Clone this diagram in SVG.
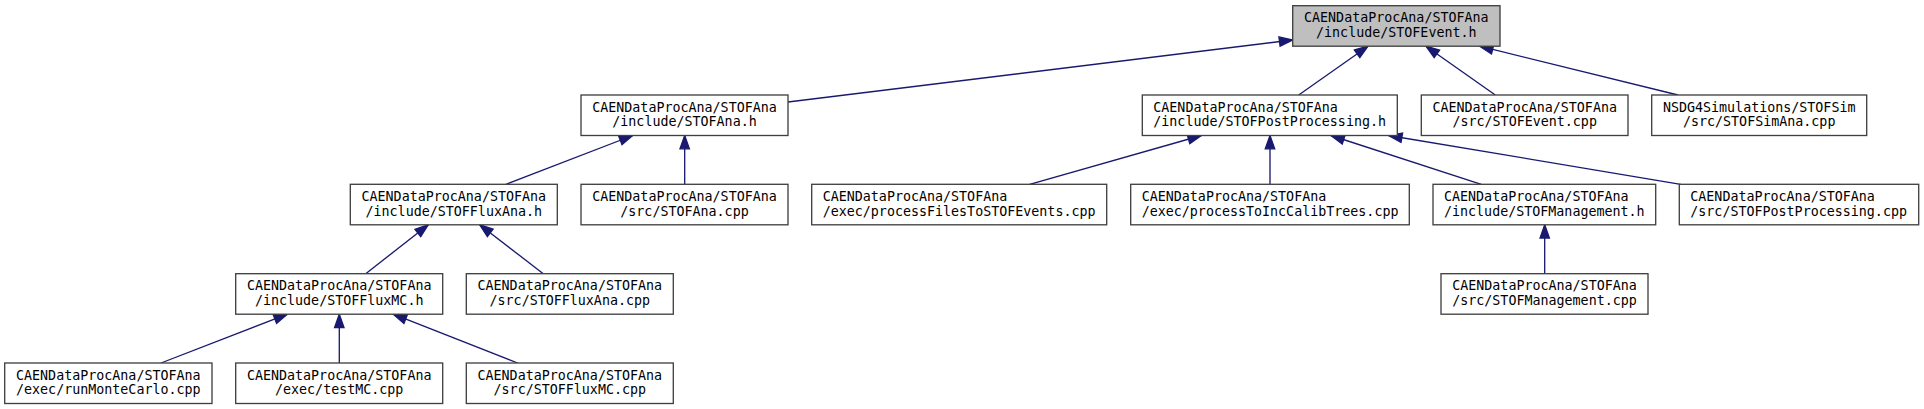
<svg xmlns="http://www.w3.org/2000/svg" width="1924" height="409" viewBox="0 0 1924 409">
<defs>
<style>
.node rect{fill:#ffffff;stroke:#404040;stroke-width:1.33}
.root rect{fill:#bfbfbf}
text{font-family:"DejaVu Sans Mono","Liberation Mono",monospace;font-size:13.33px;fill:#000000}
.c text{text-anchor:middle}
.l text{text-anchor:start}
#edges line{stroke:#191970;stroke-width:1.33;fill:none}
</style>
<marker id="arr" markerUnits="userSpaceOnUse" markerWidth="14" markerHeight="10" refX="13.3" refY="4.7" orient="auto" overflow="visible">
<path d="M0,0 L13.3,4.7 L0,9.4 Z" fill="#191970" stroke="#191970" stroke-width="1.33"/>
</marker>
</defs>
<rect width="1924" height="409" fill="#ffffff"/>
<g id="edges">
<line x1="788" y1="102" x2="1292.7" y2="40" marker-end="url(#arr)"/>
<line x1="1298.7" y1="95" x2="1368" y2="46.2" marker-end="url(#arr)"/>
<line x1="1495.3" y1="95" x2="1426" y2="46.2" marker-end="url(#arr)"/>
<line x1="1678" y1="95" x2="1479.7" y2="46.2" marker-end="url(#arr)"/>
<line x1="506" y1="184.3" x2="632.7" y2="135.5" marker-end="url(#arr)"/>
<line x1="684.7" y1="184.3" x2="684.7" y2="135.5" marker-end="url(#arr)"/>
<line x1="365.7" y1="273.7" x2="428.3" y2="224.8" marker-end="url(#arr)"/>
<line x1="543.3" y1="273.7" x2="479.7" y2="224.8" marker-end="url(#arr)"/>
<line x1="161" y1="363" x2="287.3" y2="314.2" marker-end="url(#arr)"/>
<line x1="339.3" y1="363" x2="339.3" y2="314.2" marker-end="url(#arr)"/>
<line x1="517.7" y1="363" x2="393.3" y2="314.2" marker-end="url(#arr)"/>
<line x1="1029.7" y1="184.3" x2="1201.3" y2="135.5" marker-end="url(#arr)"/>
<line x1="1270" y1="184.3" x2="1270" y2="135.5" marker-end="url(#arr)"/>
<line x1="1481.3" y1="184.3" x2="1331" y2="135.5" marker-end="url(#arr)"/>
<line x1="1680.7" y1="184.3" x2="1388.7" y2="135.5" marker-end="url(#arr)"/>
<line x1="1544.7" y1="273.7" x2="1544.7" y2="224.8" marker-end="url(#arr)"/>
</g>
<g id="node_STOFEvent_h" class="node root c">
<rect x="1292.7" y="5.7" width="207.3" height="40.5"/>
<text x="1396.3" y="22.4">CAENDataProcAna/STOFAna</text>
<text x="1396.3" y="37">/include/STOFEvent.h</text>
</g>
<g id="node_STOFAna_h" class="node c">
<rect x="581" y="95" width="207" height="40.5"/>
<text x="684.5" y="111.7">CAENDataProcAna/STOFAna</text>
<text x="684.5" y="126.3">/include/STOFAna.h</text>
</g>
<g id="node_STOFPostProcessing_h" class="node l">
<rect x="1142.3" y="95" width="255" height="40.5"/>
<text x="1153.3" y="111.7">CAENDataProcAna/STOFAna</text>
<text x="1153.3" y="126.3">/include/STOFPostProcessing.h</text>
</g>
<g id="node_STOFEvent_cpp" class="node c">
<rect x="1421.3" y="95" width="206.7" height="40.5"/>
<text x="1524.7" y="111.7">CAENDataProcAna/STOFAna</text>
<text x="1524.7" y="126.3">/src/STOFEvent.cpp</text>
</g>
<g id="node_STOFSimAna_cpp" class="node c">
<rect x="1651.7" y="95" width="215" height="40.5"/>
<text x="1759.2" y="111.7">NSDG4Simulations/STOFSim</text>
<text x="1759.2" y="126.3">/src/STOFSimAna.cpp</text>
</g>
<g id="node_STOFFluxAna_h" class="node c">
<rect x="350.3" y="184.3" width="207" height="40.5"/>
<text x="453.8" y="201">CAENDataProcAna/STOFAna</text>
<text x="453.8" y="215.6">/include/STOFFluxAna.h</text>
</g>
<g id="node_STOFAna_cpp" class="node c">
<rect x="581" y="184.3" width="207" height="40.5"/>
<text x="684.5" y="201">CAENDataProcAna/STOFAna</text>
<text x="684.5" y="215.6">/src/STOFAna.cpp</text>
</g>
<g id="node_processFilesToSTOFEvents_cpp" class="node l">
<rect x="811.7" y="184.3" width="295" height="40.5"/>
<text x="822.7" y="201">CAENDataProcAna/STOFAna</text>
<text x="822.7" y="215.6">/exec/processFilesToSTOFEvents.cpp</text>
</g>
<g id="node_processToIncCalibTrees_cpp" class="node l">
<rect x="1130.7" y="184.3" width="278.6" height="40.5"/>
<text x="1141.7" y="201">CAENDataProcAna/STOFAna</text>
<text x="1141.7" y="215.6">/exec/processToIncCalibTrees.cpp</text>
</g>
<g id="node_STOFManagement_h" class="node l">
<rect x="1433" y="184.3" width="222.7" height="40.5"/>
<text x="1444" y="201">CAENDataProcAna/STOFAna</text>
<text x="1444" y="215.6">/include/STOFManagement.h</text>
</g>
<g id="node_STOFPostProcessing_cpp" class="node l">
<rect x="1679.3" y="184.3" width="239.4" height="40.5"/>
<text x="1690.3" y="201">CAENDataProcAna/STOFAna</text>
<text x="1690.3" y="215.6">/src/STOFPostProcessing.cpp</text>
</g>
<g id="node_STOFFluxMC_h" class="node c">
<rect x="235.7" y="273.7" width="207" height="40.5"/>
<text x="339.2" y="290.4">CAENDataProcAna/STOFAna</text>
<text x="339.2" y="305">/include/STOFFluxMC.h</text>
</g>
<g id="node_STOFFluxAna_cpp" class="node c">
<rect x="466.3" y="273.7" width="207" height="40.5"/>
<text x="569.8" y="290.4">CAENDataProcAna/STOFAna</text>
<text x="569.8" y="305">/src/STOFFluxAna.cpp</text>
</g>
<g id="node_STOFManagement_cpp" class="node c">
<rect x="1441" y="273.7" width="207" height="40.5"/>
<text x="1544.5" y="290.4">CAENDataProcAna/STOFAna</text>
<text x="1544.5" y="305">/src/STOFManagement.cpp</text>
</g>
<g id="node_runMonteCarlo_cpp" class="node c">
<rect x="4.7" y="363" width="207.3" height="40.5"/>
<text x="108.3" y="379.7">CAENDataProcAna/STOFAna</text>
<text x="108.3" y="394.3">/exec/runMonteCarlo.cpp</text>
</g>
<g id="node_testMC_cpp" class="node c">
<rect x="235.7" y="363" width="207" height="40.5"/>
<text x="339.2" y="379.7">CAENDataProcAna/STOFAna</text>
<text x="339.2" y="394.3">/exec/testMC.cpp</text>
</g>
<g id="node_STOFFluxMC_cpp" class="node c">
<rect x="466.3" y="363" width="207" height="40.5"/>
<text x="569.8" y="379.7">CAENDataProcAna/STOFAna</text>
<text x="569.8" y="394.3">/src/STOFFluxMC.cpp</text>
</g>
</svg>
